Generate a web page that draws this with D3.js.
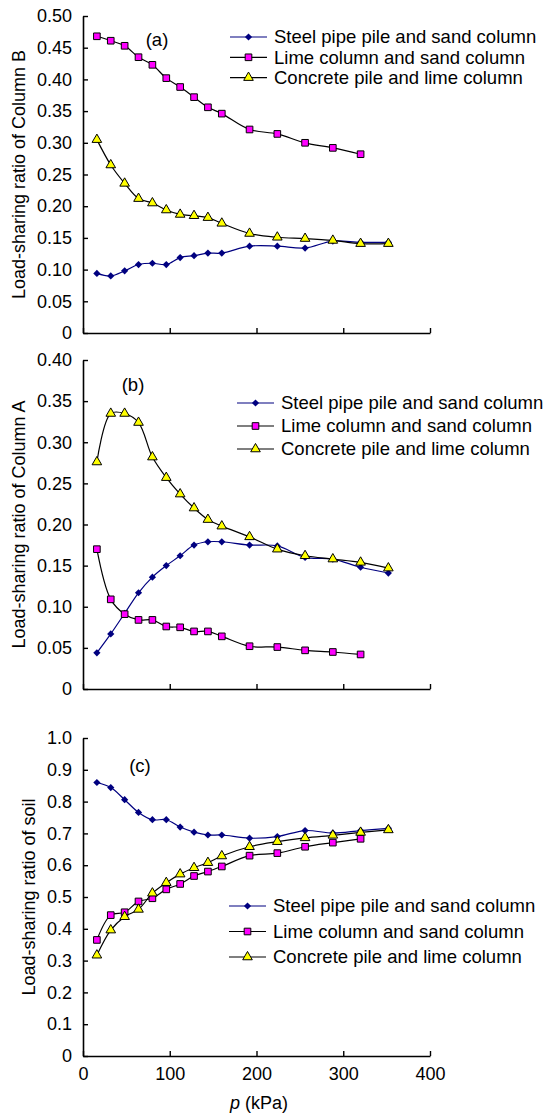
<!DOCTYPE html>
<html>
<head>
<meta charset="utf-8">
<script src="https://cdn.jsdelivr.net/npm/d3@7"></script>
<style>
  body { margin: 0; background: #fff; }
  svg { display: block; font-family: "Liberation Sans", Arial, sans-serif; }
</style>
</head>
<body>
<svg id="chart" width="543" height="1115"></svg>
<script>
// applied pressure p (kPa)
var pressure = [16, 32, 48, 64, 80, 96, 112, 128, 144, 160, 192, 224, 256, 288, 320, 352];

var seriesNames = ["Steel pipe pile and sand column", "Lime column and sand column", "Concrete pile and lime column"];

// (a) Column B
var aSteel = [0.094, 0.090, 0.098, 0.108, 0.110, 0.108, 0.119, 0.122, 0.126, 0.126, 0.137, 0.137, 0.134, 0.145, 0.143, 0.143];
var aLime = [0.468, 0.461, 0.453, 0.435, 0.423, 0.402, 0.388, 0.372, 0.356, 0.346, 0.321, 0.314, 0.300, 0.292, 0.282];
var aConcrete = [0.305, 0.265, 0.236, 0.212, 0.205, 0.194, 0.187, 0.185, 0.182, 0.173, 0.157, 0.151, 0.149, 0.146, 0.141, 0.141];

// (b) Column A
var bSteel = [0.044, 0.067, 0.092, 0.117, 0.136, 0.150, 0.162, 0.175, 0.179, 0.179, 0.175, 0.174, 0.160, 0.158, 0.148, 0.141];
var bLime = [0.170, 0.109, 0.091, 0.084, 0.084, 0.076, 0.075, 0.070, 0.070, 0.064, 0.052, 0.051, 0.047, 0.045, 0.042];
var bConcrete = [0.276, 0.335, 0.335, 0.324, 0.282, 0.257, 0.237, 0.220, 0.206, 0.198, 0.185, 0.170, 0.162, 0.158, 0.154, 0.147];

// (c) soil
var cSteel = [0.860, 0.844, 0.806, 0.766, 0.743, 0.743, 0.720, 0.704, 0.695, 0.695, 0.685, 0.690, 0.709, 0.701, 0.709, 0.716];
var cLime = [0.365, 0.443, 0.452, 0.486, 0.496, 0.524, 0.541, 0.566, 0.580, 0.596, 0.630, 0.638, 0.658, 0.671, 0.683];
var cConcrete = [0.317, 0.396, 0.438, 0.461, 0.512, 0.545, 0.572, 0.592, 0.608, 0.629, 0.658, 0.674, 0.686, 0.694, 0.703, 0.711];

var xTicks = [0, 100, 200, 300, 400];
var aTicks = [0, 0.05, 0.10, 0.15, 0.20, 0.25, 0.30, 0.35, 0.40, 0.45, 0.50];
var bTicks = [0, 0.05, 0.10, 0.15, 0.20, 0.25, 0.30, 0.35, 0.40];
var cTicks = [0, 0.1, 0.2, 0.3, 0.4, 0.5, 0.6, 0.7, 0.8, 0.9, 1.0];

var svg = d3.select("#chart");
var fontSize = 18;
var legendSize = 18.5;

var x = d3.scaleLinear().domain([0, 400]).range([83, 430]);

var panels = [
    { tag: "(a)", title: "Load-sharing ratio of Column B", max: 0.5, top: 16, bottom: 333, ticks: aTicks, fmt: ".2f",
      data: [aSteel, aLime, aConcrete], tagPos: [157, 40], legend: { x: 230, y: 37, gap: 20.3 }, titleX: 19, xLabels: false },
    { tag: "(b)", title: "Load-sharing ratio of Column A", max: 0.4, top: 360, bottom: 689, ticks: bTicks, fmt: ".2f",
      data: [bSteel, bLime, bConcrete], tagPos: [133, 385], legend: { x: 237, y: 403, gap: 23 }, titleX: 19, xLabels: false },
    { tag: "(c)", title: "Load-sharing ratio of soil", max: 1.0, top: 738, bottom: 1056, ticks: cTicks, fmt: ".1f",
      data: [cSteel, cLime, cConcrete], tagPos: [140, 766], legend: { x: 229, y: 906, gap: 25.5 }, titleX: 29, xLabels: true }
];

var styles = [
    { line: "#000080", fill: "#000080", stroke: "#000080", symbol: "diamond" },
    { line: "#000000", fill: "#ff00ff", stroke: "#000000", symbol: "square" },
    { line: "#000000", fill: "#ffff00", stroke: "#000000", symbol: "triangle" }
];

function marker(g, st, cx, cy) {
    if (st.symbol === "diamond") {
        g.append("path")
            .attr("d", d3.symbol().type(d3.symbolSquare).size(26)())
            .attr("transform", "translate(" + cx + "," + cy + ") rotate(45)")
            .attr("fill", st.fill);
    } else if (st.symbol === "square") {
        g.append("path")
            .attr("d", d3.symbol().type(d3.symbolSquare).size(44)())
            .attr("transform", "translate(" + cx + "," + cy + ")")
            .attr("fill", st.fill).attr("stroke", st.stroke).attr("stroke-width", 1);
    } else {
        g.append("path")
            .attr("d", d3.symbol().type(d3.symbolTriangle).size(40)())
            .attr("transform", "translate(" + cx + "," + cy + ")")
            .attr("fill", st.fill).attr("stroke", st.stroke).attr("stroke-width", 1);
    }
}

panels.forEach(function (pn) {
    var y = d3.scaleLinear().domain([0, pn.max]).range([pn.bottom, pn.top]);
    var g = svg.append("g");

    // x axis (ticks inside)
    var xAxis = d3.axisBottom(x).tickValues(xTicks).tickSizeInner(-5).tickSizeOuter(0).tickPadding(11);
    if (!pn.xLabels) xAxis.tickFormat("");
    var gx = g.append("g")
        .attr("transform", "translate(0," + pn.bottom + ")")
        .call(xAxis);

    // y axis (ticks inside)
    var gy = g.append("g")
        .attr("transform", "translate(" + x(0) + ",0)")
        .call(d3.axisLeft(y).tickValues(pn.ticks).tickSizeInner(-5).tickSizeOuter(0).tickPadding(11)
            .tickFormat(function (d) { return d === 0 ? "0" : d3.format(pn.fmt)(d); }));

    [gx, gy].forEach(function (ax) {
        ax.select(".domain").attr("stroke", "#000").attr("stroke-width", 1.6);
        ax.selectAll(".tick line").attr("stroke", "#000").attr("stroke-width", 1.4);
        ax.selectAll(".tick text").attr("fill", "#000")
            .style("font-size", fontSize + "px").style("font-family", "Liberation Sans, Arial, sans-serif");
    });

    // y axis title
    g.append("text")
        .attr("transform", "translate(" + pn.titleX + "," + ((pn.top + pn.bottom) / 2) + ") rotate(-90)")
        .attr("text-anchor", "middle")
        .attr("dy", "0.35em")
        .style("font-size", fontSize + "px")
        .text(pn.title);

    // panel tag
    g.append("text")
        .attr("x", pn.tagPos[0]).attr("y", pn.tagPos[1])
        .attr("dy", "0.35em")
        .attr("text-anchor", "middle")
        .style("font-size", legendSize + "px")
        .text(pn.tag);

    // series lines and markers
    pn.data.forEach(function (vals, i) {
        var st = styles[i];
        var pts = vals.map(function (v, j) { return [pressure[j], v]; });
        var line = d3.line()
            .x(function (d) { return x(d[0]); })
            .y(function (d) { return y(d[1]); })
            .curve(d3.curveCatmullRom.alpha(0.5));
        g.append("path")
            .datum(pts)
            .attr("d", line)
            .attr("fill", "none")
            .attr("stroke", st.line)
            .attr("stroke-width", 1.2);
        var mg = g.append("g");
        pts.forEach(function (d) {
            marker(mg, st, x(d[0]), y(d[1]));
        });
    });

    // legend
    seriesNames.forEach(function (name, i) {
        var st = styles[i];
        var ly = pn.legend.y + i * pn.legend.gap;
        var lg = g.append("g");
        lg.append("line")
            .attr("x1", pn.legend.x).attr("x2", pn.legend.x + 37)
            .attr("y1", ly).attr("y2", ly)
            .attr("stroke", st.line).attr("stroke-width", 1.2);
        marker(lg, st, pn.legend.x + 18.5, ly);
        lg.append("text")
            .attr("x", pn.legend.x + 44).attr("y", ly)
            .attr("dy", "0.35em")
            .style("font-size", legendSize + "px")
            .text(name);
    });
});

// x axis title
var xt = svg.append("text")
    .attr("x", 259).attr("y", 1103)
    .attr("dy", "0.35em")
    .attr("text-anchor", "middle")
    .style("font-size", fontSize + "px");
xt.append("tspan").style("font-style", "italic").text("p");
xt.append("tspan").text(" (kPa)");
</script>
</body>
</html>
